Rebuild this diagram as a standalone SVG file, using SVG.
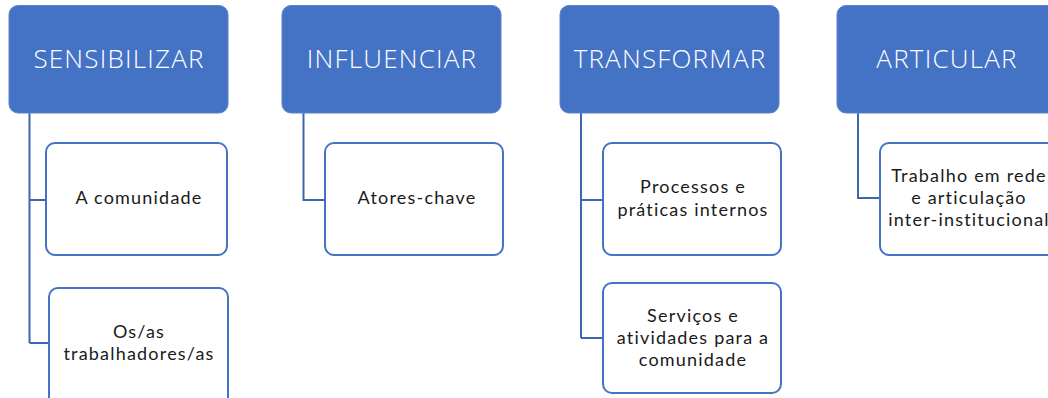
<svg xmlns="http://www.w3.org/2000/svg" width="1048" height="398" viewBox="0 0 1048 398">
<style>
.hdr{fill:#4472C4;stroke:#5B82CC;stroke-width:1}
.hdr-t{font-family:"Open Sans",Lato,sans-serif;font-weight:300;font-size:26px;letter-spacing:1.2px;fill:#FFFFFF;text-anchor:middle}
.child{fill:#FFFFFF;stroke:#4472C4;stroke-width:2}
.child-t{font-family:Lato,"Open Sans",sans-serif;font-size:18px;letter-spacing:1.2px;fill:#1A1A1A;text-anchor:middle}
.conn{fill:none;stroke:#3E65AD;stroke-width:2}
</style>
<rect width="1048" height="398" fill="#FFFFFF"/>
<g id="connectors">
<path class="conn" d="M29.5,113 V343 M29.5,200 H46 M29.5,343 H49"/>
<path class="conn" d="M303.5,113 V200 H325"/>
<path class="conn" d="M581,113 V338 M581,200 H603 M581,338 H603"/>
<path class="conn" d="M858,113 V198 H880"/>
</g>
<g id="sensibilizar">
<rect class="hdr" x="9" y="5.5" width="219" height="107.5" rx="9"/>
<text class="hdr-t" x="119" y="68">SENSIBILIZAR</text>
</g>
<g id="a-comunidade">
<rect class="child" x="46" y="143" width="181" height="112" rx="9"/>
<text class="child-t" x="139" y="204">A comunidade</text>
</g>
<g id="trabalhadores">
<rect class="child" x="49" y="288" width="179" height="120" rx="9"/>
<text class="child-t" x="139" y="338">Os/as</text>
<text class="child-t" x="139" y="360">trabalhadores/as</text>
</g>
<g id="influenciar">
<rect class="hdr" x="282" y="5.5" width="219" height="107.5" rx="9"/>
<text class="hdr-t" x="392" y="68">INFLUENCIAR</text>
</g>
<g id="atores-chave">
<rect class="child" x="325" y="143" width="178" height="112" rx="9"/>
<text class="child-t" x="417" y="204">Atores-chave</text>
</g>
<g id="transformar">
<rect class="hdr" x="560" y="5.5" width="219" height="107.5" rx="9"/>
<text class="hdr-t" x="670" y="68">TRANSFORMAR</text>
</g>
<g id="processos">
<rect class="child" x="603" y="143" width="178" height="112" rx="9"/>
<text class="child-t" x="693" y="193">Processos e</text>
<text class="child-t" x="693" y="216">práticas internos</text>
</g>
<g id="servicos">
<rect class="child" x="603" y="283" width="178" height="110" rx="9"/>
<text class="child-t" x="693" y="322">Serviços e</text>
<text class="child-t" x="693" y="344">atividades para a</text>
<text class="child-t" x="693" y="366">comunidade</text>
</g>
<g id="articular">
<rect class="hdr" x="837" y="5.5" width="219" height="107.5" rx="9"/>
<text class="hdr-t" x="947" y="68">ARTICULAR</text>
</g>
<g id="trabalho-em-rede">
<rect class="child" x="880" y="143" width="178" height="112" rx="9"/>
<text class="child-t" x="969" y="182">Trabalho em rede</text>
<text class="child-t" x="969" y="204">e articulação</text>
<text class="child-t" x="969" y="226">inter-institucional</text>
</g>
</svg>
